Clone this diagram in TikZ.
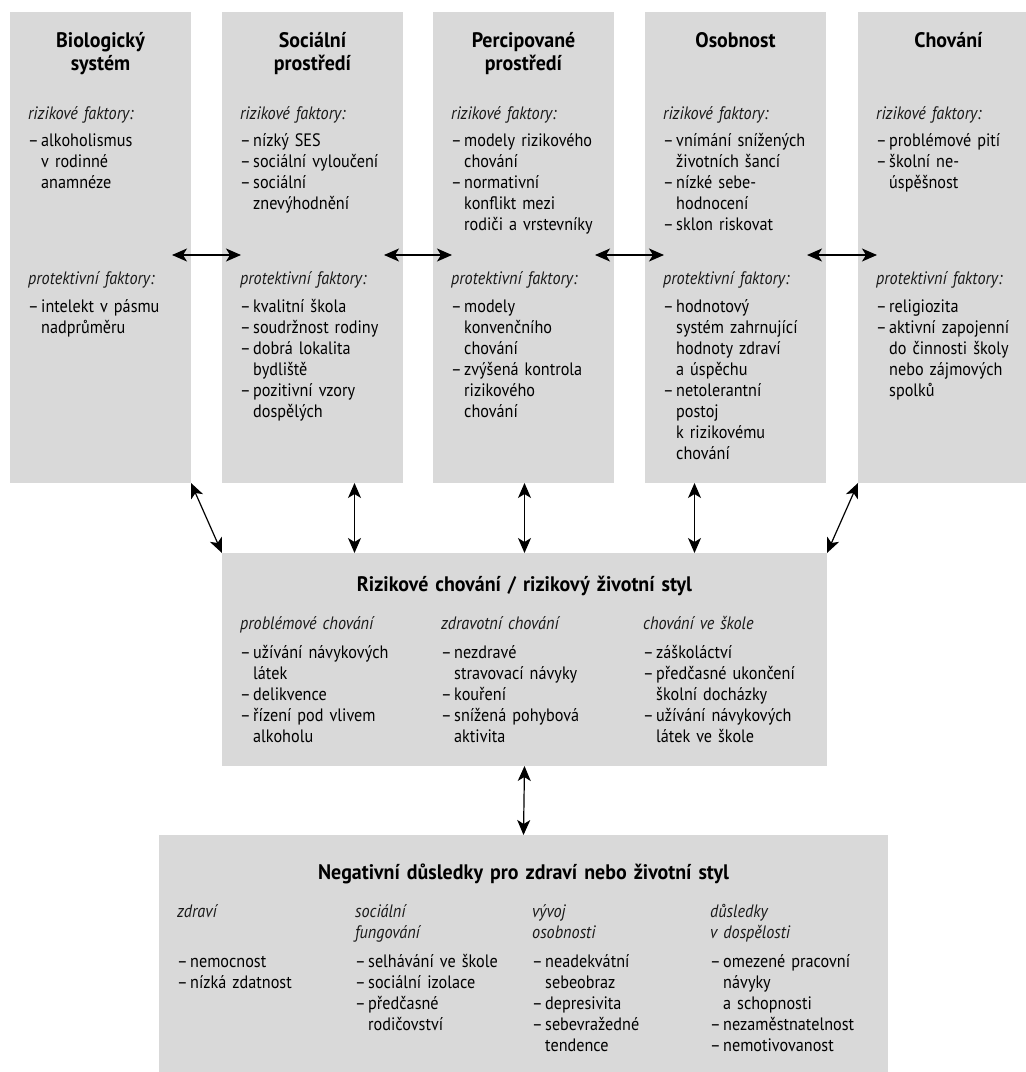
\documentclass[tikz,border=0pt]{standalone}
\usepackage{fontspec}
\setmainfont{PT Sans}[FakeStretch=0.9, BoldFeatures={FakeStretch=0.95}]
\usetikzlibrary{positioning,arrows.meta}
\definecolor{panelgray}{HTML}{D9D9D9}
\newcommand{\dash}{\makebox[13pt][l]{–}}
\newcommand{\cont}{\hspace*{13pt}}
\newcommand{\lab}[1]{\textcolor{black!90}{\textit{#1}}}

\begin{document}
\begin{tikzpicture}[
		x=1pt, y=-1pt,
		panel/.style = {fill=panelgray, inner sep=0pt, outer sep=0pt, anchor=north west},
		toppanel/.style = {panel, minimum width=181pt, minimum height=471pt},
		heading/.style = {font=\fontsize{21}{23}\selectfont\bfseries, align=center, text width=181pt, inner sep=0pt, anchor=base},
		group/.style = {font=\fontsize{18}{21}\selectfont, align=left, text width=190pt, inner sep=0pt, anchor=base west},
		twoway/.style = {{Stealth[length=15pt,width=13pt,inset=4pt]}-{Stealth[length=15pt,width=13pt,inset=4pt]}, line width=1.2pt}
	]
	\fill[white] (0,0) rectangle (1026,1072);
	\useasboundingbox (0,0) rectangle (1026,1072);

	% Top row.
	\node[toppanel] (bio) at (10,12) {};
	\node[toppanel] (soc) at (222,12) {};
	\node[toppanel] (perc) at (433,12) {};
	\node[toppanel] (osob) at (645,12) {};
	\node[toppanel] (chov) at (858,12) {};

	\node[heading] (bio-t) at (100.5,47) {Biologický\\systém};
	\node[group] (bio-risk) at (28,119) {\lab{rizikové faktory:}\\[6pt]
		\dash alkoholismus\\\cont v rodinné\\\cont anamnéze};
	\node[group] (bio-prot) at (28,284) {\lab{protektivní faktory:}\\[7pt]
		\dash intelekt v pásmu\\\cont nadprůměru};

	\node[heading] (soc-t) at (312.5,47) {Sociální\\prostředí};
	\node[group] (soc-risk) at (240,119) {\lab{rizikové faktory:}\\[6pt]
		\dash nízký SES\\\dash sociální vyloučení\\\dash sociální\\\cont znevýhodnění};
	\node[group] (soc-prot) at (240,284) {\lab{protektivní faktory:}\\[7pt]
		\dash kvalitní škola\\\dash soudržnost rodiny\\\dash dobrá lokalita\\\cont bydliště\\
		\dash pozitivní vzory\\\cont dospělých};

	\node[heading] (perc-t) at (523.5,47) {Percipované\\prostředí};
	\node[group] (perc-risk) at (451,119) {\lab{rizikové faktory:}\\[6pt]
		\dash modely rizikového\\\cont chování\\\dash normativní\\\cont konflikt mezi\\
		\cont rodiči a vrstevníky};
	\node[group] (perc-prot) at (451,284) {\lab{protektivní faktory:}\\[7pt]
		\dash modely\\\cont konvenčního\\\cont chování\\\dash zvýšená kontrola\\
		\cont rizikového\\\cont chování};

	\node[heading] (osob-t) at (735.5,47) {Osobnost};
	\node[group] (osob-risk) at (663,119) {\lab{rizikové faktory:}\\[6pt]
		\dash vnímání snížených\\\cont životních šancí\\\dash nízké sebe-\\\cont hodnocení\\
		\dash sklon riskovat};
	\node[group] (osob-prot) at (663,284) {\lab{protektivní faktory:}\\[7pt]
		\dash hodnotový\\\cont systém zahrnující\\\cont hodnoty zdraví\\\cont a úspěchu\\
		\dash netolerantní\\\cont postoj\\\cont k rizikovému\\\cont chování};

	\node[heading] (chov-t) at (948.5,47) {Chování};
	\node[group] (chov-risk) at (876,119) {\lab{rizikové faktory:}\\[6pt]
		\dash problémové pití\\\dash školní ne-\\\cont úspěšnost};
	\node[group] (chov-prot) at (876,284) {\lab{protektivní faktory:}\\[7pt]
		\dash religiozita\\\dash aktivní zapojenní\\\cont do činnosti školy\\
		\cont nebo zájmových\\\cont spolků};

	% Middle box.
	\node[panel, minimum width=605pt, minimum height=213pt] (rb) at (222,553) {};
	\node[heading, text width=605pt] (rb-t) at (524.5,591) {Rizikové chování / rizikový životní styl};
	\node[group] (rb-a) at (240,629) {\lab{problémové chování}\\[8pt]
		\dash užívání návykových\\\cont látek\\\dash delikvence\\\dash řízení pod vlivem\\\cont alkoholu};
	\node[group] (rb-b) at (441,629) {\lab{zdravotní chování}\\[8pt]
		\dash nezdravé\\\cont stravovací návyky\\\dash kouření\\\dash snížená pohybová\\\cont aktivita};
	\node[group] (rb-c) at (643,629) {\lab{chování ve škole}\\[8pt]
		\dash záškoláctví\\\dash předčasné ukončení\\\cont školní docházky\\
		\dash užívání návykových\\\cont látek ve škole};

	% Bottom box.
	\node[panel, minimum width=729pt, minimum height=250pt] (cons) at (159,835) {};
	\node[heading, text width=729pt] (cons-t) at (523.5,879) {Negativní důsledky pro zdraví nebo životní styl};
	\node[group] (cons-a) at (177,917) {\lab{zdraví}\\[29pt]
		\dash nemocnost\\\dash nízká zdatnost};
	\node[group] (cons-b) at (355,917) {\lab{sociální}\\\lab{fungování}\\[8pt]
		\dash selhávání ve škole\\\dash sociální izolace\\\dash předčasné\\\cont rodičovství};
	\node[group] (cons-c) at (532,917) {\lab{vývoj}\\\lab{osobnosti}\\[8pt]
		\dash neadekvátní\\\cont sebeobraz\\\dash depresivita\\\dash sebevražedné\\\cont tendence};
	\node[group] (cons-d) at (710,917) {\lab{důsledky}\\\lab{v dospělosti}\\[8pt]
		\dash omezené pracovní\\\cont návyky\\\cont a schopnosti\\\dash nezaměstnatelnost\\
		\dash nemotivovanost};

	% Arrows between the top boxes.
	\draw[twoway] ([shift={(-19,7.5)}]bio.east) -- ([shift={(19,7.5)}]soc.west);
	\draw[twoway] ([shift={(-19,7.5)}]soc.east) -- ([shift={(19,7.5)}]perc.west);
	\draw[twoway] ([shift={(-19,7.5)}]perc.east) -- ([shift={(19,7.5)}]osob.west);
	\draw[twoway] ([shift={(-19,7.5)}]osob.east) -- ([shift={(19,7.5)}]chov.west);

	% Arrows down to the middle box.
	\draw[twoway] (bio.south east) -- (rb.north west);
	\draw[twoway] ([xshift=-170pt]rb.north |- soc.south) -- ([xshift=-170pt]rb.north);
	\draw[twoway] (rb.north |- perc.south) -- (rb.north);
	\draw[twoway] ([xshift=170pt]rb.north |- osob.south) -- ([xshift=170pt]rb.north);
	\draw[twoway] (chov.south west) -- (rb.north east);

	\draw[twoway] (rb.south) -- (cons.north);
\end{tikzpicture}
\end{document}
